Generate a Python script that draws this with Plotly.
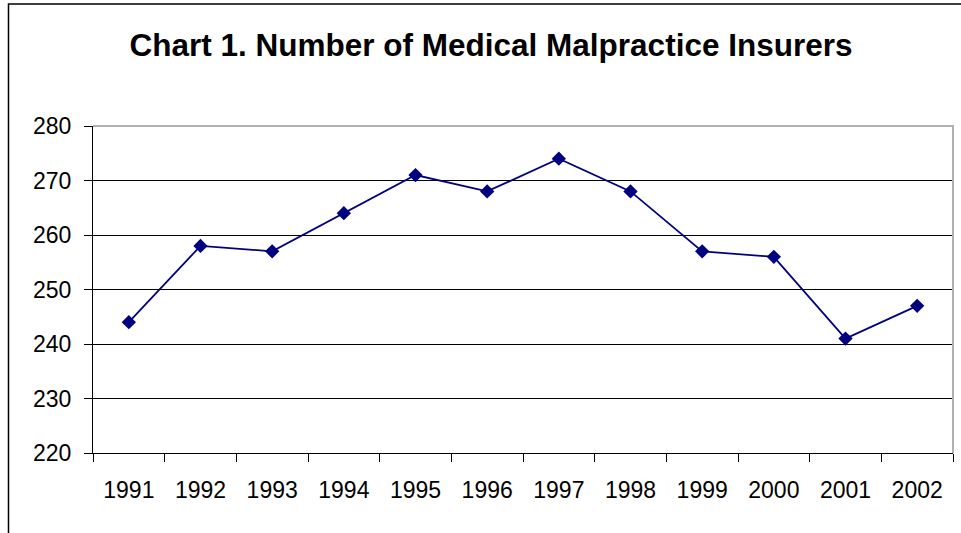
import plotly.graph_objects as go

years = ["1991", "1992", "1993", "1994", "1995", "1996", "1997", "1998", "1999", "2000", "2001", "2002"]
insurers = [244, 258, 257, 264, 271, 268, 274, 268, 257, 256, 241, 247]
y_ticks = [220, 230, 240, 250, 260, 270, 280]

NAVY = "#000080"
FONT = "Arial, Liberation Sans, sans-serif"

fig = go.Figure()
fig.add_trace(go.Scatter(
    x=years, y=insurers, mode="lines+markers",
    line=dict(color=NAVY, width=1.8),
    marker=dict(symbol="diamond", size=11, color=NAVY),
    showlegend=False, cliponaxis=False,
))

W, H = 961, 533
L, R, T, B = 93, 8, 126, 80
pw, ph = W - L - R, H - T - B

def px2paper_x(px):
    return (px - L) / pw

def px2paper_y(py):
    return (H - B - py) / ph

fig.update_layout(
    width=W, height=H,
    margin=dict(l=L, r=R, t=T, b=B, pad=0, autoexpand=False),
    paper_bgcolor="white", plot_bgcolor="white",
    font=dict(family=FONT, color="black", size=23),
    title=dict(text="<b>Chart 1. Number of Medical Malpractice Insurers</b>",
               x=px2paper_x(491), xref="paper", xanchor="center",
               y=1 - 45 / H, yanchor="middle",
               font=dict(family=FONT, size=31.5, color="black")),
    xaxis=dict(type="category", range=[-0.5, len(years) - 0.5],
               tickson="boundaries", ticks="outside", ticklen=8,
               tickcolor="black", showline=True, linecolor="black", linewidth=1,
               showgrid=False, zeroline=False, ticklabelstandoff=16,
               tickfont=dict(size=23)),
    yaxis=dict(range=[220, 280], tickvals=y_ticks, ticks="outside", ticklen=8,
               tickcolor="black", showline=True, linecolor="black", linewidth=1,
               showgrid=True, gridcolor="black", gridwidth=1, zeroline=False,
               ticklabelstandoff=8, tickfont=dict(size=23)),
    shapes=[
        dict(type="path", xref="paper", yref="paper",
             path="M 0 1 L 1 1 L 1 0", line=dict(color="#b0b0b0", width=2), layer="above"),
        dict(type="path", xref="paper", yref="paper",
             path=f"M {px2paper_x(8.5)} {px2paper_y(560)} L {px2paper_x(8.5)} {px2paper_y(4)} L {px2paper_x(990)} {px2paper_y(4)}",
             line=dict(color="black", width=1.5), layer="below"),
    ],
)

fig.write_html("out.html", config={"displayModeBar": False},
               post_script="document.body.style.margin='0';document.body.style.overflow='hidden';")
